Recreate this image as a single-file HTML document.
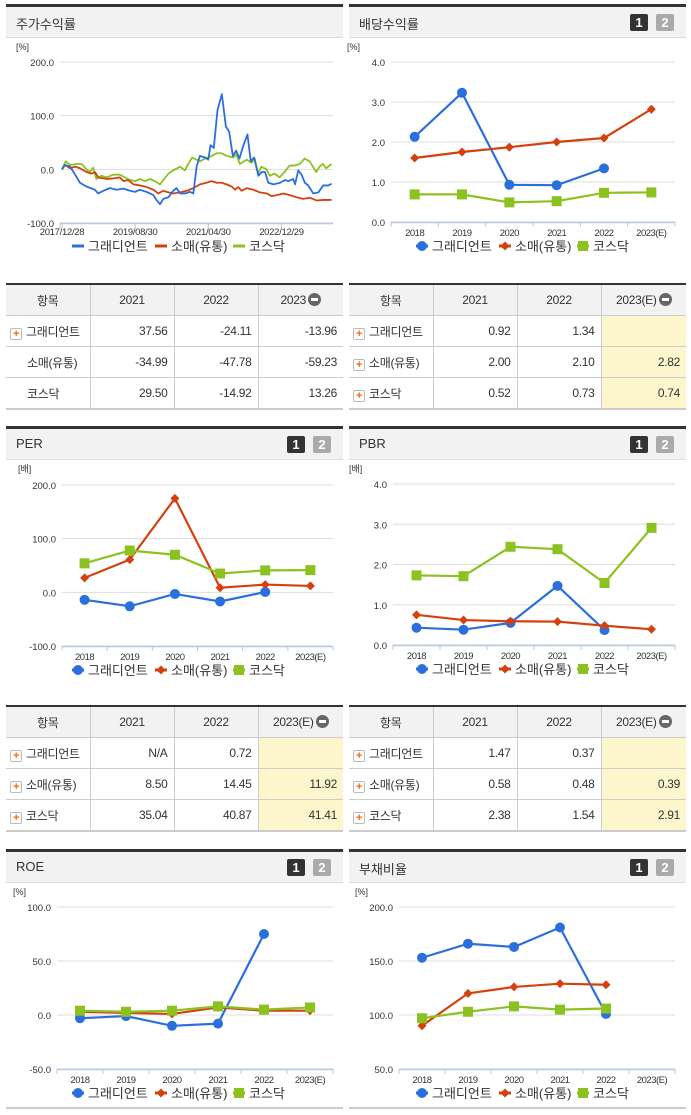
<!DOCTYPE html>
<html><head><meta charset="utf-8">
<style>
body{margin:0;width:691px;height:1115px;background:#fff;position:relative;font-family:"Liberation Sans","Noto Sans CJK KR",sans-serif;overflow:hidden}
.ph{position:absolute;height:30px;background:#f2f2f2;border-top:3px solid #333;border-bottom:1px solid #ddd}
.ph .t{position:absolute;left:10px;top:7px;font-size:13px;color:#333}
.b1,.b2{position:absolute;top:7px;width:18px;height:17px;color:#fff;font-size:13px;font-weight:bold;text-align:center;line-height:17px;border-radius:2px}
.b1{background:#333}.b2{background:#aaa}
table{position:absolute;border-collapse:collapse;table-layout:fixed;font-size:12px;color:#333;border-top:2px solid #333;border-bottom:2px solid #ccc}
td{border:1px solid #ccc;height:30px;padding:0 6px;text-align:right;white-space:nowrap;overflow:hidden;letter-spacing:-0.3px}
tr td:first-child{border-left:none}tr td:last-child{border-right:none}
tr.h td{background:#f2f2f2;text-align:center}
td.n{text-align:left;padding-left:4px}
td.y{background:#fdf6cc}
.pl{display:inline-block;width:10px;height:10px;border:1px solid #bbb;border-radius:2px;background:#fff;color:#f60;font-size:11px;line-height:10px;text-align:center;font-weight:bold;margin-right:4px;vertical-align:-1px}
.mi{display:inline-block;width:13px;height:13px;border-radius:50%;background:#666;position:relative;vertical-align:-2px;margin-left:2px}
.mi:after{content:"";position:absolute;left:3px;top:5px;width:7px;height:3px;background:#fff}
svg{position:absolute;left:0;top:0}
</style></head><body>
<div class="ph" style="left:6px;top:4px;width:337px"><span class="t">주가수익률</span></div>
<div class="ph" style="left:349px;top:4px;width:337px"><span class="t">배당수익률</span><span class="b1" style="left:281px">1</span><span class="b2" style="left:307px">2</span></div>
<div class="ph" style="left:6px;top:426px;width:337px"><span class="t">PER</span><span class="b1" style="left:281px">1</span><span class="b2" style="left:307px">2</span></div>
<div class="ph" style="left:349px;top:426px;width:337px"><span class="t">PBR</span><span class="b1" style="left:281px">1</span><span class="b2" style="left:307px">2</span></div>
<div class="ph" style="left:6px;top:849px;width:337px"><span class="t">ROE</span><span class="b1" style="left:281px">1</span><span class="b2" style="left:307px">2</span></div>
<div class="ph" style="left:349px;top:849px;width:337px"><span class="t">부채비율</span><span class="b1" style="left:281px">1</span><span class="b2" style="left:307px">2</span></div>
<div style="position:absolute;left:6px;top:1107px;width:337px;height:2px;background:#ccc"></div>
<div style="position:absolute;left:349px;top:1107px;width:337px;height:2px;background:#ccc"></div>

<table style="left:6px;top:283px;width:337px">
<colgroup><col style="width:84px"><col style="width:84px"><col style="width:84px"><col style="width:85px"></colgroup>
<tr class="h"><td>항목</td><td>2021</td><td>2022</td><td>2023<span class="mi"></span></td></tr>
<tr><td class="n"><span class="pl">+</span>그래디언트</td><td>37.56</td><td>-24.11</td><td>-13.96</td></tr>
<tr><td class="n" style="padding-left:21px">소매(유통)</td><td>-34.99</td><td>-47.78</td><td>-59.23</td></tr>
<tr><td class="n" style="padding-left:21px">코스닥</td><td>29.50</td><td>-14.92</td><td>13.26</td></tr>
</table>
<table style="left:349px;top:283px;width:337px">
<colgroup><col style="width:84px"><col style="width:84px"><col style="width:84px"><col style="width:85px"></colgroup>
<tr class="h"><td>항목</td><td>2021</td><td>2022</td><td>2023(E)<span class="mi"></span></td></tr>
<tr><td class="n"><span class="pl">+</span>그래디언트</td><td>0.92</td><td>1.34</td><td class="y"></td></tr>
<tr><td class="n"><span class="pl">+</span>소매(유통)</td><td>2.00</td><td>2.10</td><td class="y">2.82</td></tr>
<tr><td class="n"><span class="pl">+</span>코스닥</td><td>0.52</td><td>0.73</td><td class="y">0.74</td></tr>
</table>
<table style="left:6px;top:705px;width:337px">
<colgroup><col style="width:84px"><col style="width:84px"><col style="width:84px"><col style="width:85px"></colgroup>
<tr class="h"><td>항목</td><td>2021</td><td>2022</td><td>2023(E)<span class="mi"></span></td></tr>
<tr><td class="n"><span class="pl">+</span>그래디언트</td><td>N/A</td><td>0.72</td><td class="y"></td></tr>
<tr><td class="n"><span class="pl">+</span>소매(유통)</td><td>8.50</td><td>14.45</td><td class="y">11.92</td></tr>
<tr><td class="n"><span class="pl">+</span>코스닥</td><td>35.04</td><td>40.87</td><td class="y">41.41</td></tr>
</table>
<table style="left:349px;top:705px;width:337px">
<colgroup><col style="width:84px"><col style="width:84px"><col style="width:84px"><col style="width:85px"></colgroup>
<tr class="h"><td>항목</td><td>2021</td><td>2022</td><td>2023(E)<span class="mi"></span></td></tr>
<tr><td class="n"><span class="pl">+</span>그래디언트</td><td>1.47</td><td>0.37</td><td class="y"></td></tr>
<tr><td class="n"><span class="pl">+</span>소매(유통)</td><td>0.58</td><td>0.48</td><td class="y">0.39</td></tr>
<tr><td class="n"><span class="pl">+</span>코스닥</td><td>2.38</td><td>1.54</td><td class="y">2.91</td></tr>
</table>

<svg id="s" width="691" height="1115"></svg>
<script>
// ---- stock return time series (months since 2017/12, value %) ----
const gradMonths=[0,0.8,2.2,3.6,4.9,6.7,9.0,9.9,11.3,13.1,14.9,16.8,18.6,20,21.3,23.1,25,25.9,26.8,27.7,29.1,30.4,31.3,32.3,33.6,35,35.9,36.8,37.7,39.1,40,40.6,41.5,42.5,43.7,44.8,45.7,46.7,47.6,48.5,49.6,50.7,51.6,52.5,53.7,54.6,55.5,56.4,57.8,59.6,61,61.9,63.2,63.7,64.6,65.5,66.4,67.3,68.7,70.1,71.4,72.8,73.7];
const gradVals=[0,8,5,-10,-25,-32,-38,-45,-40,-35,-38,-36,-40,-42,-38,-42,-48,-58,-65,-55,-52,-40,-35,-45,-45,-42,-45,5,25,22,18,45,40,110,140,80,70,25,35,20,45,65,15,22,-12,-5,-5,-25,-28,-25,-20,-22,-18,-28,-2,-10,-25,-30,-45,-43,-30,-30,-27];
const retailMonths=[0,0.8,2.2,3.6,4.9,6.7,8.1,9,9.9,12.2,14,15.8,16.8,18.1,19.5,21.3,23.1,25,26.3,27.7,28.6,30.4,32.3,34.1,35.9,37.7,39.5,40.9,42.3,43.6,45,46.4,47.3,48.2,49.1,50.5,52.3,54.1,56,57.3,58.7,60.5,62.3,64.1,65.9,67.8,69.6,71.4,73.7];
const retailVals=[0,8,2,5,2,-5,-8,-5,-15,-18,-17,-15,-22,-20,-28,-30,-33,-38,-45,-40,-42,-45,-43,-40,-35,-28,-25,-22,-25,-25,-28,-32,-38,-33,-40,-35,-38,-43,-45,-50,-48,-45,-48,-52,-55,-53,-58,-57,-57];
const kosdaqMonths=[0,1,2.2,4,5.4,6.7,7.6,8.5,9.4,10.8,12.2,14,15.8,17.2,18.6,20,21.3,22.7,24.1,25.4,26.8,27.7,29.1,30.4,32.3,33.6,34.5,35.6,36.8,37.7,39.1,40.9,42.3,43.6,45,46.8,47.7,48.6,50.5,51.8,52.7,53.6,54.5,55.9,56.8,58.1,59.5,60.8,62.2,63.5,65,66.3,67.7,69.5,70.4,71.3,72.2,73.7];
const kosdaqVals=[0,15,8,10,10,0,-5,3,-18,-12,-15,-10,-10,-15,-20,-22,-18,-22,-18,-22,-28,-20,-8,-2,5,-2,10,22,18,15,20,25,30,30,25,22,28,10,18,12,20,-8,5,0,-12,-8,-15,-5,7,7,10,20,15,-5,5,10,2,10];
const retTicks=[200,100,0,-100];
const retDateLabels=["2017/12/28","2019/08/30","2021/04/30","2022/12/29"];
const retDateMonths=[0,20,40,60];

// ---- category charts ----
const years=["2018","2019","2020","2021","2022","2023(E)"];
const divGrad=[2.13,3.23,0.93,0.92,1.34,null];
const divRetail=[1.60,1.75,1.87,2.00,2.10,2.82];
const divKosdaq=[0.69,0.69,0.49,0.52,0.73,0.74];
const divTicks=[4,3,2,1,0];
const perGrad=[-14,-26,-3,-17,0.72,null];
const perRetail=[27,61,175,8.5,14.45,11.92];
const perKosdaq=[54,78,70,35.04,40.87,41.41];
const perTicks=[200,100,0,-100];
const pbrGrad=[0.43,0.38,0.55,1.47,0.37,null];
const pbrRetail=[0.75,0.62,0.59,0.58,0.48,0.39];
const pbrKosdaq=[1.73,1.71,2.44,2.38,1.54,2.91];
const pbrTicks=[4,3,2,1,0];
const roeGrad=[-3,-1,-10,-8,75,null];
const roeRetail=[3,2,1,7,4,4];
const roeKosdaq=[4,3,4,8,5,7];
const roeTicks=[100,50,0,-50];
const debtGrad=[153,166,163,181,101,null];
const debtRetail=[90,120,126,129,128,null];
const debtKosdaq=[97,103,108,105,106,null];
const debtTicks=[200,150,100,50];

const BLUE="#2b6fdc",RED="#d4410f",GREEN="#8cc220";
const S=document.getElementById('s');const NS="http://www.w3.org/2000/svg";
function mk(tag,at,parent){const e=document.createElementNS(NS,tag);for(const k in at)e.setAttribute(k,at[k]);(parent||S).appendChild(e);return e;}
function txt(x,y,s,at){const e=mk('text',Object.assign({x:x,y:y,'font-size':10,fill:'#333','font-family':'"Liberation Sans","Noto Sans CJK KR",sans-serif'},at||{}));e.textContent=s;return e;}
function marker(kind,x,y,color){
  let e;
  if(kind==='c'){e=mk('circle',{cx:x,cy:y,r:5,fill:color});}
  else if(kind==='d'){e=mk('path',{d:`M${x} ${y-4.5}L${x+4.5} ${y}L${x} ${y+4.5}L${x-4.5} ${y}Z`,fill:color});}
  else {e=mk('rect',{x:x-5,y:y-5,width:10,height:10,fill:color});}
  
  
  return e;
}
function legend(x0,y,withMarkers){
  const items=[["그래디언트",BLUE,'c'],["소매(유통)",RED,'d'],["코스닥",GREEN,'s']];
  const offs=[0,83,161];
  items.forEach((it,i)=>{
    const x=x0+offs[i];
    const l=mk('line',{x1:x-5,y1:y,x2:x+7,y2:y,stroke:it[1],'stroke-width':3});
    
    
    if(withMarkers)marker(it[2],x+1,y,it[1]);
    const t=txt(x+11,y+5,it[0],{'font-size':13});
    
    
  });
}
function yAxis(L,R,ticks,ys,unit,unitY){
  ticks.forEach(v=>{
    const y=ys(v);
    const g=mk('line',{x1:L,y1:y,x2:R,y2:y,stroke:'#ddd','stroke-width':1});
    
    
    const t=txt(L-6,y+4,v.toFixed(1),{'text-anchor':'end','font-size':9.5});
    
    
  });
  const u=txt(L-44,unitY,unit,{'font-size':9});
  
  
}
function catChart(L,R,yTop,yBot,ticks,unit,unitY,g,r,k,lx){
  const vmax=ticks[0],vmin=ticks[ticks.length-1];
  const ys=v=>yTop+(vmax-v)/(vmax-vmin)*(yBot-yTop);
  const w=(R-L)/years.length;const xs=i=>L+(i+0.5)*w;
  yAxis(L,R,ticks,ys,unit,unitY);
  const ax=mk('line',{x1:L,y1:yBot+0.5,x2:R,y2:yBot+0.5,stroke:'#b8c8e0','stroke-width':1.5});
  
  
  for(let i=0;i<=years.length;i++)mk('line',{x1:L+i*w,y1:yBot,x2:L+i*w,y2:yBot+5,stroke:'#b8c8e0'});
  years.forEach((y,i)=>{const t=txt(xs(i),yBot+14,y,{'text-anchor':'middle','font-size':9.5,'letter-spacing':'-0.5'});
    
    });
  [[g,BLUE,'c'],[r,RED,'d'],[k,GREEN,'s']].forEach(s=>{
    let pts=[];s[0].forEach((v,i)=>{if(v!==null)pts.push([xs(i),ys(v)]);});
    const p=mk('polyline',{points:pts.map(p=>p.join(',')).join(' '),fill:'none',stroke:s[1],'stroke-width':2.2});
    
    
    pts.forEach(pt=>marker(s[2],pt[0],pt[1],s[1]));
  });
  legend(lx,yBot+24,true);
}
// chart 1 time series
(function(){
  const L=60,R=333,yTop=62,yBot=223;
  const ys=v=>yTop+(200-v)/300*(yBot-yTop);
  const xm=m=>62+m*3.658;
  yAxis(L,R,retTicks,ys,"[%]",50);
  const ax=mk('line',{x1:L,y1:yBot+0.5,x2:R,y2:yBot+0.5,stroke:'#b8c8e0','stroke-width':1.5});
  
  
  mk('line',{x1:L,y1:yBot,x2:L,y2:yBot+6,stroke:'#b8c8e0'});
  retDateMonths.forEach((m,i)=>{mk('line',{x1:xm(m),y1:yBot,x2:xm(m),y2:yBot+6,stroke:'#b8c8e0'});
    const t=txt(xm(m),yBot+12,retDateLabels[i],{'text-anchor':'middle','font-size':9.5,'letter-spacing':'-0.3'});
    
    });
  [[kosdaqMonths,kosdaqVals,GREEN],[retailMonths,retailVals,RED],[gradMonths,gradVals,BLUE]].forEach(s=>{
    const p=mk('polyline',{points:s[0].map((m,i)=>xm(m)+','+ys(s[1][i])).join(' '),fill:'none',stroke:s[2],'stroke-width':1.8,'stroke-linejoin':'round'});
    
    
  });
  legend(77,246,false);
})();
catChart(391,675,62,222,divTicks,"[%]",50,divGrad,divRetail,divKosdaq,421);
catChart(62,333,485,646,perTicks,"[배]",472,perGrad,perRetail,perKosdaq,77);
catChart(393,675,484,645,pbrTicks,"[배]",472,pbrGrad,pbrRetail,pbrKosdaq,421);
catChart(57,333,907,1069,roeTicks,"[%]",895,roeGrad,roeRetail,roeKosdaq,77);
catChart(399,675,907,1069,debtTicks,"[%]",895,debtGrad,debtRetail,debtKosdaq,421);
</script>
</body></html>
